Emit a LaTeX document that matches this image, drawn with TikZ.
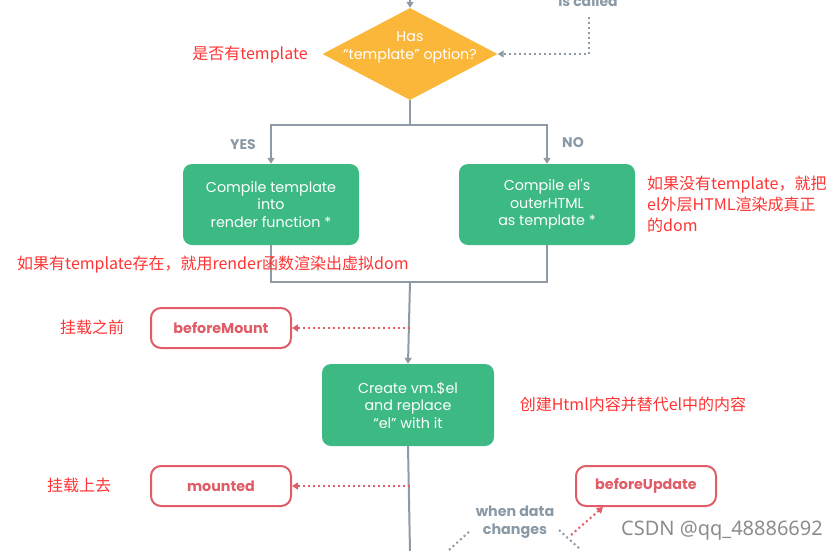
\documentclass[tikz,border=0pt]{standalone}
\usepackage{fontspec}
\usetikzlibrary{shapes.geometric,arrows.meta}
\newfontfamily\pop{Poppins}
\newfontfamily\cjk{Noto Sans CJK SC}
\newfontfamily\wm{Noto Sans}
\definecolor{vgreen}{HTML}{3DBA84}
\definecolor{vorange}{HTML}{FBB73A}
\definecolor{lgray}{HTML}{8E9BA7}
\definecolor{tgray}{HTML}{8A99A6}
\definecolor{hred}{HTML}{E05C66}
\definecolor{ared}{HTML}{FF3333}
\definecolor{wmgray}{HTML}{8C8C8C}
\tikzset{
  every node/.style={inner sep=0pt},
  gline/.style={draw=lgray, line width=2pt},
  garrow/.style={gline, -{Triangle[length=6pt,width=7pt]}},
  gdot/.style={draw=lgray, line width=2pt, dash pattern=on 2pt off 3pt},
  rdot/.style={draw=hred, line width=2pt, dash pattern=on 2pt off 3pt, -{Triangle[length=6pt,width=7pt]}},
  gbox/.style={fill=vgreen, rounded corners=9pt, minimum width=176pt, minimum height=81pt, align=center, text=white, font=\pop\fontsize{14.3}{17.5}\selectfont},
  hook/.style={draw=hred, line width=2pt, fill=white, rounded corners=10pt, minimum width=140pt, minimum height=40pt, text=hred, font=\pop\bfseries\fontsize{14.3}{16}\selectfont},
  glabel/.style={text=tgray, font=\pop\bfseries\fontsize{14}{17}\selectfont, align=center},
  note/.style={text=ared, font=\cjk\fontsize{16}{21}\selectfont, align=left}
}
\begin{document}
\begin{tikzpicture}[x=1pt,y=-1pt]
\useasboundingbox (0,0) rectangle (838,550);
% diamond
\node[diamond, fill=vorange, aspect=1.9, minimum width=175pt, minimum height=92pt] (d) at (410,54) {};
\node[text=white, align=center, font=\pop\fontsize{14.3}{18}\selectfont] (dtext) at (410,47) {Has\\“template” option?};
\coordinate (top) at (410,-2);
\draw[garrow] (top) -- (d.north);
\node[glabel, anchor=base] (iscalled) at (588,6) {is called};
\coordinate (ic) at (589,17);
\draw[gdot, -{Triangle[length=6pt,width=7pt]}] (ic) |- (d.east);
\node[note, anchor=base] (n1) at (250,59) {是否有template};
% branches
\coordinate (split) at (410,125);
\node[gbox] (b1) at (271,204.5) {Compile template\\into\\render function *};
\node[gbox] (b2) at (547,204.5) {Compile el's\\outerHTML\\as template *};
\draw[gline] (d.south) -- (split);
\draw[garrow] (split) -| (b1.north);
\draw[garrow] (split) -| (b2.north);
\node[glabel] (yes) at (243,145) {YES};
\node[glabel] (no) at (573,143) {NO};
% join
\coordinate (jm) at (410,282);
\draw[gline] (b1.south) |- (jm);
\draw[gline] (b2.south) |- (jm);
\node[gbox, minimum width=172pt, minimum height=82pt] (b3) at (408,405) {Create vm.\$el\\and replace\\“el” with it};
\draw[garrow] (jm) -- (b3.north);
\coordinate (bot) at (410,552);
\draw[gline] (b3.south) -- (bot);
% notes
\node[note, anchor=base west] (n2) at (17,269) {如果有template存在，就用render函数渲染出虚拟dom};
\node[note, anchor=north west, text width=190pt] (n3) at (647,176) {如果没有template，就把\\el外层HTML渲染成真正\\的dom};
\node[note, anchor=base] (n4) at (633,410) {创建Html内容并替代el中的内容};
\node[note, anchor=base] (n5) at (92,333) {挂载之前};
\node[note, anchor=base] (n6) at (79,491) {挂载上去};
% hooks
\node[hook] (bm) at (221,328) {beforeMount};
\node[hook] (mt) at (221,486) {mounted};
\node[hook] (bu) at (646,486) {beforeUpdate};
\coordinate (bmp) at (410,328);
\coordinate (mtp) at (410,486);
\draw[rdot] (bmp) -- (bm.east);
\draw[rdot] (mtp) -- (mt.east);
\coordinate (bus) at (571,535);
\coordinate (bue) at (603,507);
\draw[rdot] (bus) -- (bue);
% data change loop
\node[glabel, font=\pop\bfseries\fontsize{14.3}{18}\selectfont] (wd) at (515,522) {when data\\changes};
\coordinate (l1) at (449,550);
\coordinate (l2) at (471,530);
\coordinate (r1) at (559,530);
\coordinate (r2) at (581,550);
\draw[gdot] (l1) -- (l2);
\draw[gdot] (r1) -- (r2);
% watermark
\node[text=wmgray, font=\wm\fontsize{20}{22}\selectfont, anchor=base east] (wm) at (823,535) {CSDN @qq\_48886692};
\end{tikzpicture}
\end{document}
